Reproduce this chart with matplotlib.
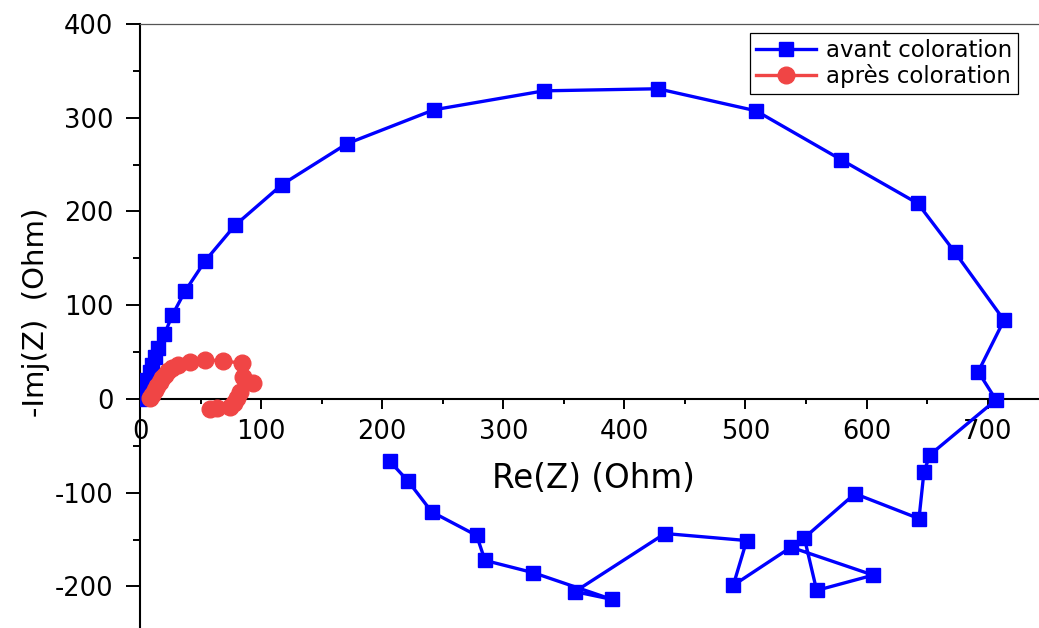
import matplotlib
matplotlib.use("Agg")
import matplotlib.pyplot as plt
from matplotlib.ticker import MultipleLocator

# Impedance spectra (Nyquist plot), values in Ohm
re_avant = [0.0, 0.8, 2.5, 4.1, 5.8, 8.3, 9.9, 12.4, 15.1, 20.1, 26.7, 37.2,
            53.7, 78.4, 117.3, 170.9, 242.8, 333.6, 427.7, 508.7, 578.9,
            642.4, 673.0, 713.5, 692.2, 706.9,
            652.4, 647.4, 643.3, 590.4, 548.6, 558.8, 605.5, 537.6, 489.9,
            501.0, 433.5, 359.2, 389.5, 324.8, 284.9, 278.0, 240.9, 221.6,
            206.4]
im_avant = [0.0, 3.2, 8.5, 13.8, 20.2, 28.7, 36.2, 44.7, 53.9, 68.8, 89.4,
            114.9, 147.1, 185.1, 228.7, 272.3, 308.5, 328.7, 330.9, 307.4,
            255.3, 208.5, 156.4, 84.0, 29.0, -1.0,
            -59.6, -77.7, -127.7, -101.1, -148.2, -204.3, -188.0, -158.2,
            -198.9, -151.1, -143.6, -205.6, -213.8, -185.4, -172.3, -145.7,
            -120.5, -88.0, -66.7]

re_apres = [8.3, 9.9, 12.4, 14.0, 16.5, 18.2, 20.6, 23.1, 26.2, 31.6, 41.3,
            53.7, 68.8, 84.0, 85.3, 93.6, 82.6, 79.9, 77.6, 74.3, 63.3, 57.8]
im_apres = [0.7, 4.3, 9.6, 13.8, 18.4, 22.3, 25.5, 29.8, 32.7, 36.2, 39.7,
            41.5, 40.7, 38.0, 23.7, 16.7, 7.8, 0.7, -4.3, -8.2, -9.9, -11.0]

x_label = "Re(Z) (Ohm)"
y_label = "-Imj(Z)  (Ohm)"
series_labels = ["avant coloration", "après coloration"]

plt.rcParams["font.family"] = ["DejaVu Sans"]
plt.rcParams["axes.unicode_minus"] = False

W, H = 1039, 628
fig = plt.figure(figsize=(W / 100, H / 100), dpi=100)
ax = fig.add_axes([140 / W, 0, 1 - 140 / W, 1 - 24 / H])

ax.plot(re_avant, im_avant, color="#0000FF", lw=2.4, marker="s",
        markersize=10.5, markeredgewidth=1, label=series_labels[0], zorder=3)
ax.plot(re_apres, im_apres, color="#F04545", lw=2.4, marker="o",
        markersize=12, markeredgewidth=1, label=series_labels[1], zorder=4)

ax.set_xlim(0, 742.4)
ax.set_ylim(-244.4, 400)

# axes crossing at the origin
ax.spines["bottom"].set_position(("data", 0))
ax.spines["right"].set_visible(False)
ax.spines["top"].set_color("#555555")
ax.spines["top"].set_linewidth(0.9)
for s in ("left", "bottom"):
    ax.spines[s].set_linewidth(1.5)
    ax.spines[s].set_color("black")

ax.xaxis.set_major_locator(MultipleLocator(100))
ax.xaxis.set_minor_locator(MultipleLocator(50))
ax.yaxis.set_major_locator(MultipleLocator(100))
ax.yaxis.set_minor_locator(MultipleLocator(50))

ax.tick_params(axis="x", which="major", direction="out", length=7.2,
               width=1.4, pad=7.0, labelsize=18.5)
ax.tick_params(axis="x", which="minor", direction="out", length=3.6, width=1.4)
ax.tick_params(axis="y", which="major", direction="out", length=10,
               width=1.4, pad=9, labelsize=18.5)
ax.tick_params(axis="y", which="minor", direction="out", length=5, width=1.4)
ax.tick_params(top=False, right=False, which="both")

ax.set_xlabel(x_label, fontsize=23.5)
ax.xaxis.label.set_va("center")
ax.xaxis.set_label_coords((593 - 140) / 899, (628 - 478) / 604)

ax.set_ylabel(y_label, fontsize=21)
ax.yaxis.label.set_va("center")
ax.yaxis.label.set_ha("center")
ax.yaxis.set_label_coords((36 - 140) / 899, (628 - 312) / 604)

leg = ax.legend(loc="upper right", bbox_to_anchor=(1018 / W, 1 - 33 / H),
                bbox_transform=fig.transFigure, fontsize=16.5,
                handlelength=2.6, handletextpad=0.45, borderpad=0.25,
                labelspacing=0.12, borderaxespad=0, fancybox=False,
                framealpha=1, edgecolor="black")
leg.get_frame().set_linewidth(0.9)

fig.savefig("out.png", dpi=100)
